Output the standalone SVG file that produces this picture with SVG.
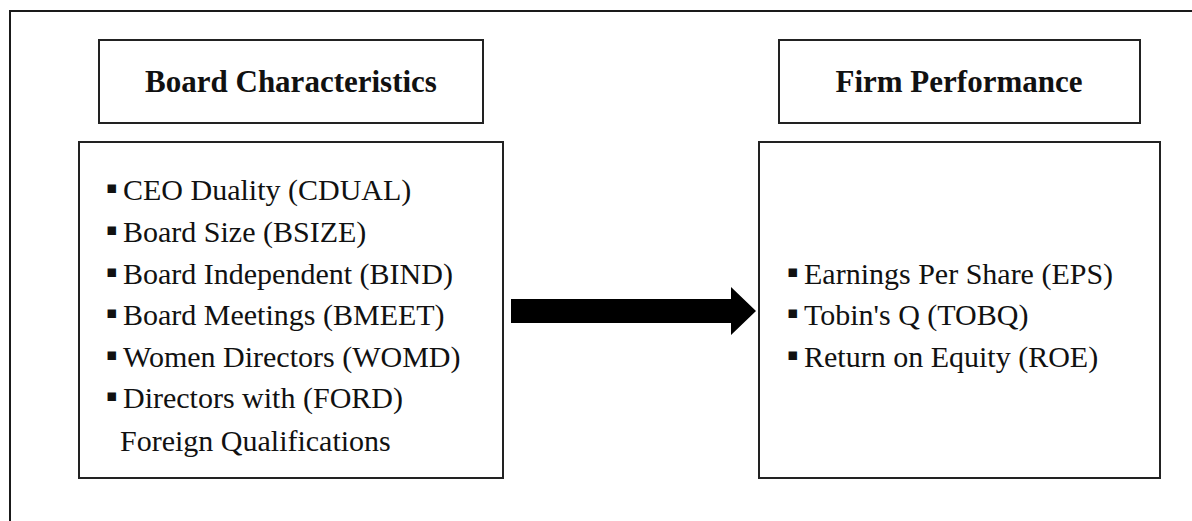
<svg xmlns="http://www.w3.org/2000/svg" width="1192" height="521" viewBox="0 0 1192 521">
  <style>
    .frame { fill: none; stroke: #1a1a1a; stroke-width: 2; }
    .box { fill: #ffffff; stroke: #222222; stroke-width: 2; }
    .title { font-family: "Liberation Serif", "Times New Roman", serif; font-weight: bold; font-size: 31px; fill: #111111; text-anchor: middle; }
    .item { font-family: "Liberation Serif", "Times New Roman", serif; font-size: 30px; fill: #111111; }
    .bullet { font-family: "DejaVu Sans", sans-serif; font-size: 17px; }
    .arrow { fill: #000000; }
  </style>

  <rect x="0" y="0" width="1192" height="521" fill="#ffffff"/>
  <!-- outer frame, open to the right and bottom -->
  <path class="frame" d="M10,521 V11 H1192"/>

  <g id="board-characteristics-title">
    <rect class="box" x="99" y="40" width="384" height="83"/>
    <text class="title" x="291" y="92">Board Characteristics</text>
  </g>

  <g id="board-characteristics-list">
    <rect class="box" x="79" y="142" width="424" height="336"/>
    <text class="item" y="200"><tspan class="bullet" x="106" dy="-7">▪</tspan><tspan x="123" dy="7">CEO Duality (CDUAL)</tspan></text>
    <text class="item" y="242"><tspan class="bullet" x="106" dy="-7">▪</tspan><tspan x="123" dy="7">Board Size (BSIZE)</tspan></text>
    <text class="item" y="283.5"><tspan class="bullet" x="106" dy="-7">▪</tspan><tspan x="123" dy="7">Board Independent (BIND)</tspan></text>
    <text class="item" y="325"><tspan class="bullet" x="106" dy="-7">▪</tspan><tspan x="123" dy="7">Board Meetings (BMEET)</tspan></text>
    <text class="item" y="366.5"><tspan class="bullet" x="106" dy="-7">▪</tspan><tspan x="123" dy="7">Women Directors (WOMD)</tspan></text>
    <text class="item" y="408"><tspan class="bullet" x="106" dy="-7">▪</tspan><tspan x="123" dy="7">Directors with (FORD)</tspan></text>
    <text class="item" x="120" y="451">Foreign Qualifications</text>
  </g>

  <g id="firm-performance-title">
    <rect class="box" x="779" y="40" width="361" height="83"/>
    <text class="title" x="959" y="92">Firm Performance</text>
  </g>

  <g id="firm-performance-list">
    <rect class="box" x="759" y="142" width="401" height="336"/>
    <text class="item" y="284"><tspan class="bullet" x="787" dy="-7">▪</tspan><tspan x="804" dy="7">Earnings Per Share (EPS)</tspan></text>
    <text class="item" y="325"><tspan class="bullet" x="787" dy="-7">▪</tspan><tspan x="804" dy="7">Tobin's Q (TOBQ)</tspan></text>
    <text class="item" y="367"><tspan class="bullet" x="787" dy="-7">▪</tspan><tspan x="804" dy="7">Return on Equity (ROE)</tspan></text>
  </g>

  <g id="connectors">
    <polygon class="arrow" points="511,299 731,299 731,287 756,311 731,335 731,323 511,323"/>
  </g>
</svg>
